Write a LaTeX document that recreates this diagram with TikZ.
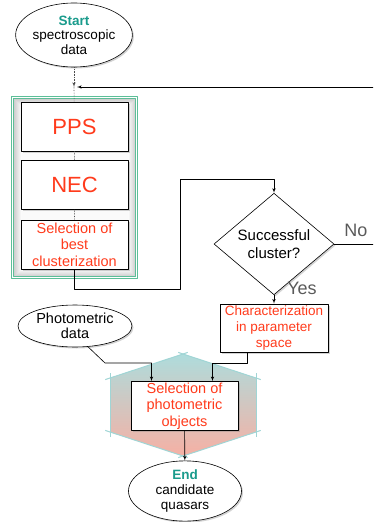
\documentclass[tikz,border=0pt]{standalone}
\usepackage{fontspec}
\setmainfont{Liberation Sans}
\usetikzlibrary{shapes,arrows,shadows,positioning}

\definecolor{startgreen}{HTML}{1A9B8C}
\definecolor{boxred}{HTML}{FF3B1C}
\definecolor{framegreen}{HTML}{5DBE98}
\definecolor{hexteal}{HTML}{AEDCDC}
\definecolor{hexpink}{HTML}{F6B0A4}
\definecolor{labelgray}{HTML}{5A5A5A}

\tikzstyle{line} = [draw, line width=0.6pt, -latex']
\tikzset{
  shadowed/.style ={drop shadow={opacity=0.35, shadow xshift=1.5pt, shadow yshift=-1.5pt}},
  terminal/.style ={draw, line width=0.6pt, ellipse, fill=white, shadowed, align=center,
    inner sep=0pt, font=\fontsize{13.5}{15}\selectfont},
  stage/.style ={draw, line width=0.6pt, fill=white, shadowed, text=boxred, align=center,
    inner sep=0pt, minimum width=107pt, minimum height=49pt, font=\fontsize{14.5}{16.5}\selectfont},
  link/.style ={draw=black!70, line width=0.6pt, densely dotted},
  answer/.style ={text=labelgray, font=\fontsize{18}{20}\selectfont},
  hexedge/.style ={hexteal!92!teal, line width=1pt, shorten <=-5pt, shorten >=-5pt}
}

\begin{document}
\begin{tikzpicture}[x=1pt,y=-1pt,line join=round]
\useasboundingbox (0,0) rectangle (373,522);
\clip (0,0) rectangle (373,522);

% group around the clustering steps
\foreach \i [evaluate=\i as \g using 38-5*\i] in {0,...,7}
  \fill[gray!\g] (13.5+\i,98.5+\i) rectangle (135.5-\i,276.5-\i);
\fill[gray!4] (21.5,106.5) rectangle (127.5,268.5);
\draw[framegreen, line width=0.8pt] (11.5,96.5) rectangle (137.5,278.5);
\draw[framegreen, line width=0.8pt] (13.5,98.5) rectangle (135.5,276.5);

% hexagon behind the photometric selection
\shade[top color=hexteal, bottom color=hexpink]
  (183,354) -- (256,378) -- (256,432) -- (183,456) -- (110,432) -- (110,378) -- cycle;
\draw[hexedge] (183,354) -- (256,378);
\draw[hexedge] (256,378) -- (256,432);
\draw[hexedge] (256,432) -- (183,456);
\draw[hexedge] (183,456) -- (110,432);
\draw[hexedge] (110,432) -- (110,378);
\draw[hexedge] (110,378) -- (183,354);

\node[terminal, minimum width=114pt, minimum height=64pt] (start) at (74,35)
  {\raisebox{-2pt}{\textcolor{startgreen}{\bfseries Start}}\\[1pt]spectroscopic\\data};
\coordinate (join) at (74,87);

\node[stage, font=\fontsize{22}{24}\selectfont] (pps) at (74.5,126.5) {PPS};
\node[stage, font=\fontsize{22}{24}\selectfont] (nec) at (74.5,185) {NEC};
\node[stage] (best) at (74.5,244.5) {Selection of\\best\\clusterization};

\node[draw, line width=0.6pt, diamond, fill=white, shadowed, inner sep=0pt, minimum width=120pt,
  minimum height=73pt, align=center, font=\fontsize{15}{18}\selectfont] (cluster) at (274,244)
  {Successful\\cluster?};
\node[answer] (no) at (356,230) {No};
\node[answer] (yes) at (302,288) {Yes};

\node[stage, minimum width=108pt, minimum height=48pt, font=\fontsize{13.5}{16}\selectfont]
  (charac) at (274,328) {Characterization\\in parameter\\space};
\node[terminal, minimum width=114pt, minimum height=42pt, font=\fontsize{14.5}{15}\selectfont]
  (photo) at (75,326) {Photometric\\data};
\node[stage] (photsel) at (184.5,406) {Selection of\\photometric\\objects};
\node[terminal, minimum width=113pt, minimum height=60pt] (end) at (185,491)
  {\textcolor{startgreen}{\bfseries End}\\candidate\\quasars};

% flow
\draw[link, -latex'] (start) -- (join);
\path[link] (join) -- (pps) -- (nec) -- (best);
\path[line] (best.south) |- (180,289) |- ([yshift=14pt]cluster.north) -- (cluster.north);
\path[line] (cluster.east) -- (380,244) |- ([xshift=3pt]join);
\path[line] (cluster.south) -- (charac.north);
\path[line] (photo.-58) -- (105,363) -| ([xshift=-33pt]photsel.north);
\path[line] ([xshift=-27pt]charac.south) -- (247,363) -| ([xshift=28pt]photsel.north);
\path[line] (photsel) -- (end);
\end{tikzpicture}
\end{document}
